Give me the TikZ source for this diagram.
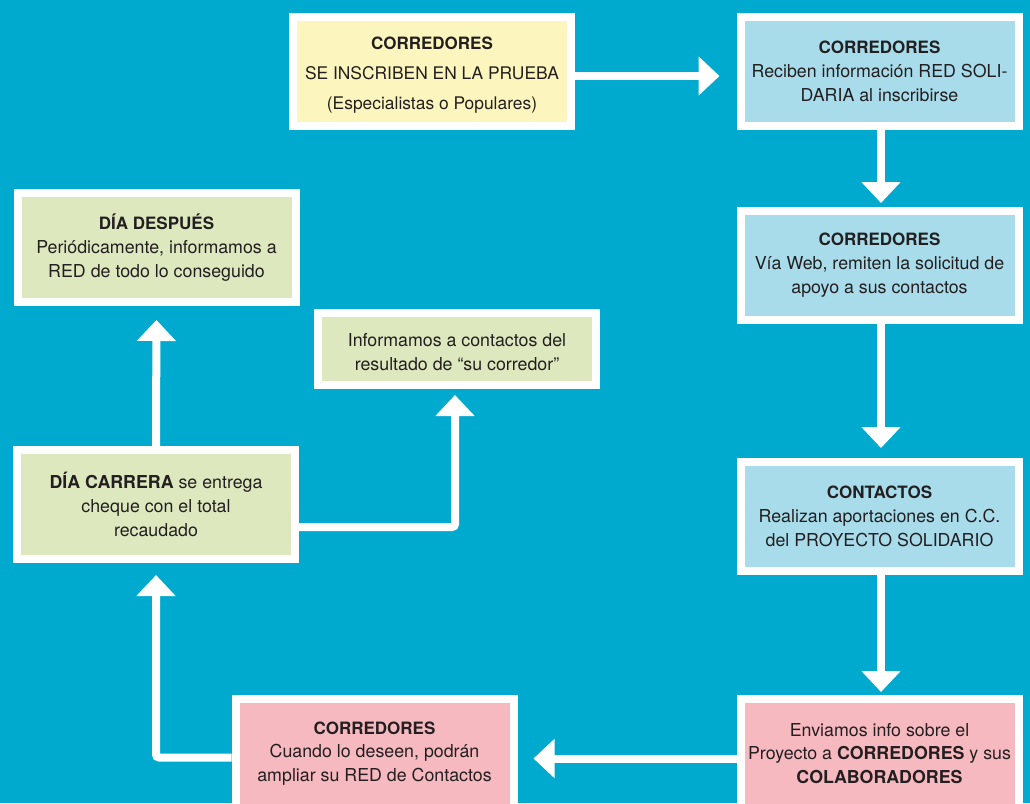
\documentclass[tikz,border=0pt]{standalone}
\usepackage{fontspec}
\setmainfont{TeX Gyre Heros}
\usetikzlibrary{arrows.meta}
\definecolor{bg}{RGB}{0,170,206}
\definecolor{yel}{RGB}{252,246,190}
\definecolor{lblue}{RGB}{168,220,235}
\definecolor{lgreen}{RGB}{221,232,191}
\definecolor{lpink}{RGB}{247,185,192}
\definecolor{txt}{RGB}{35,31,32}
\newcommand{\hd}[1]{{\fontsize{17}{23.5}\selectfont\textbf{#1}}}
\begin{document}
\begin{tikzpicture}[x=1pt,y=-1pt,
  box/.style={draw=white, line width=8pt, outer sep=4pt, minimum width=278pt, minimum height=109pt,
    align=center, text=txt, font=\fontsize{17.8}{23.8}\selectfont, inner sep=0pt},
  flow/.style={draw=white, line width=8pt, -{Triangle[length=21pt,width=38pt]}}]
\useasboundingbox (0,0) rectangle (1030,803);
\clip (0,0) rectangle (1030,803);
\fill[bg] (0,0) rectangle (1030,803);

\node[box,fill=yel,font=\fontsize{17.4}{30}\selectfont] (b1) at (432,71.5) {};
\node[text=txt,align=center,font=\fontsize{17.4}{30}\selectfont,inner sep=0pt] (t1) at (432,75)
  {\hd{CORREDORES}\\SE INSCRIBEN EN LA PRUEBA\\(Especialistas o Populares)};
\node[box,fill=lblue] (b2) at (879.5,71.5)
  {\hd{CORREDORES}\\Reciben información RED SOLI-\\DARIA al inscribirse};
\node[box,fill=lblue] (b3) at (879.5,265)
  {\hd{CORREDORES}\\Vía Web, remiten la solicitud de\\apoyo a sus contactos};
\node[box,fill=lblue] (b4) at (879.5,516.5)
  {\hd{CONTACTOS}\\Realizan aportaciones en C.C.\\del PROYECTO SOLIDARIO};
\node[box,fill=lpink] (b5) at (879.5,753.5)
  {Enviamos info sobre el\\Proyecto a \textbf{CORREDORES} y sus\\\textbf{COLABORADORES}};
\node[box,fill=lpink] (b6) at (374.5,753.5)
  {\hd{CORREDORES}\\Cuando lo deseen, podrán\\ampliar su RED de Contactos};
\node[box,fill=lgreen] (b7) at (156,504.5)
  {\textbf{DÍA CARRERA} se entrega\\cheque con el total\\recaudado};
\node[box,fill=lgreen] (b8) at (156.5,247.5)
  {\hd{DÍA DESPUÉS}\\Periódicamente, informamos a\\RED de todo lo conseguido};
\node[box,fill=lgreen,minimum height=72pt] (b9) at (457,349) {};
\node[text=txt,align=center,font=\fontsize{17.8}{23.8}\selectfont,inner sep=0pt] (t9) at (457,352)
  {Informamos a contactos del\\resultado de “su corredor”};

\draw[flow,shorten >=17pt] ([yshift=-4.5pt]b1.east) -- ([yshift=-4.5pt]b2.west);
\draw[flow,shorten >=3.5pt] ([xshift=1.5pt]b2.south) -- ([xshift=1.5pt]b3.north);
\draw[flow,shorten >=10pt] ([xshift=1.5pt]b3.south) -- ([xshift=1.5pt]b4.north);
\draw[flow,shorten >=3pt] ([xshift=1.5pt]b4.south) -- ([xshift=1.5pt]b5.north);
\draw[flow,shorten >=16pt] ([yshift=-5pt]b5.west) -- ([yshift=-5pt]b6.east);
\draw[flow,shorten >=12pt,rounded corners=3pt] ([yshift=-4pt]b6.west) -| (b7.south);
\draw[flow,shorten >=14pt] (b7.north) -- (b8.south);
\draw[flow,shorten >=6pt,rounded corners=3pt] ([yshift=-22.5pt]b7.east) -| ([xshift=-2pt]b9.south);
\end{tikzpicture}
\end{document}
